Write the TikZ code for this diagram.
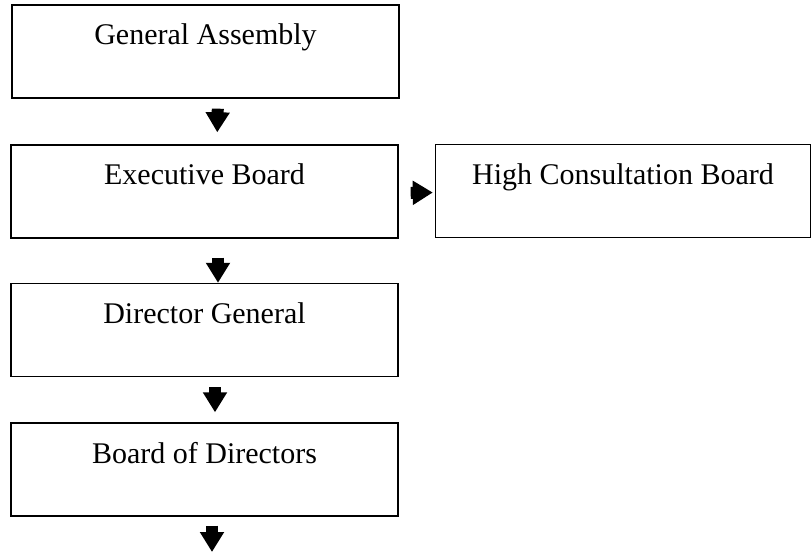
\documentclass[tikz,border=0pt]{standalone}
\usepackage{fontspec}
\setmainfont{Liberation Serif}
\usetikzlibrary{arrows.meta}

\tikzset{
  unit/.style={draw, line width=1.4pt, inner sep=0pt, minimum width=387pt,
    text height=40pt, text depth=53pt, font=\fontsize{30}{36}\selectfont},
  flow/.style={line width=12pt, -{Triangle[width=23pt,length=20pt]}}
}

\begin{document}
\begin{tikzpicture}[x=1pt,y=-1pt]
	%%%%% BOXES %%%%%
	\useasboundingbox (0,0) rectangle (812,556);
	
	\node[unit] (assembly) at (205.5, 51.5) {General Assembly};
	\node[unit] (executive) at (204.5, 191.5) {Executive Board};
	\node[unit, minimum width=375pt] (consult) at (623, 191) {High Consultation Board};
	\node[unit] (director) at (204.5, 330) {Director General};
	\node[unit] (directors) at (204.5, 469.5) {Board of Directors};
	
	%%%%% ARROWS %%%%%
	\draw[flow, shorten <=10pt, shorten >=12pt] ([xshift=12.5pt]assembly.south) -- ([xshift=12.5pt]executive.north);
	\draw[flow, shorten <=19pt] ([xshift=13.5pt]executive.south) -- ([xshift=13.5pt]director.north);
	\draw[flow, shorten <=10pt, shorten >=10pt] ([xshift=10.5pt]director.south) -- ([xshift=10.5pt]directors.north);
	\draw[flow, shorten <=12pt, shorten >=2pt] ([yshift=-1.5pt]executive.east) -- ([yshift=-1.5pt]consult.west);
	
	\coordinate (below) at (212, 552);
	\draw[flow, shorten <=9pt] ([xshift=7.5pt]directors.south) -- (below);
\end{tikzpicture}
\end{document}
